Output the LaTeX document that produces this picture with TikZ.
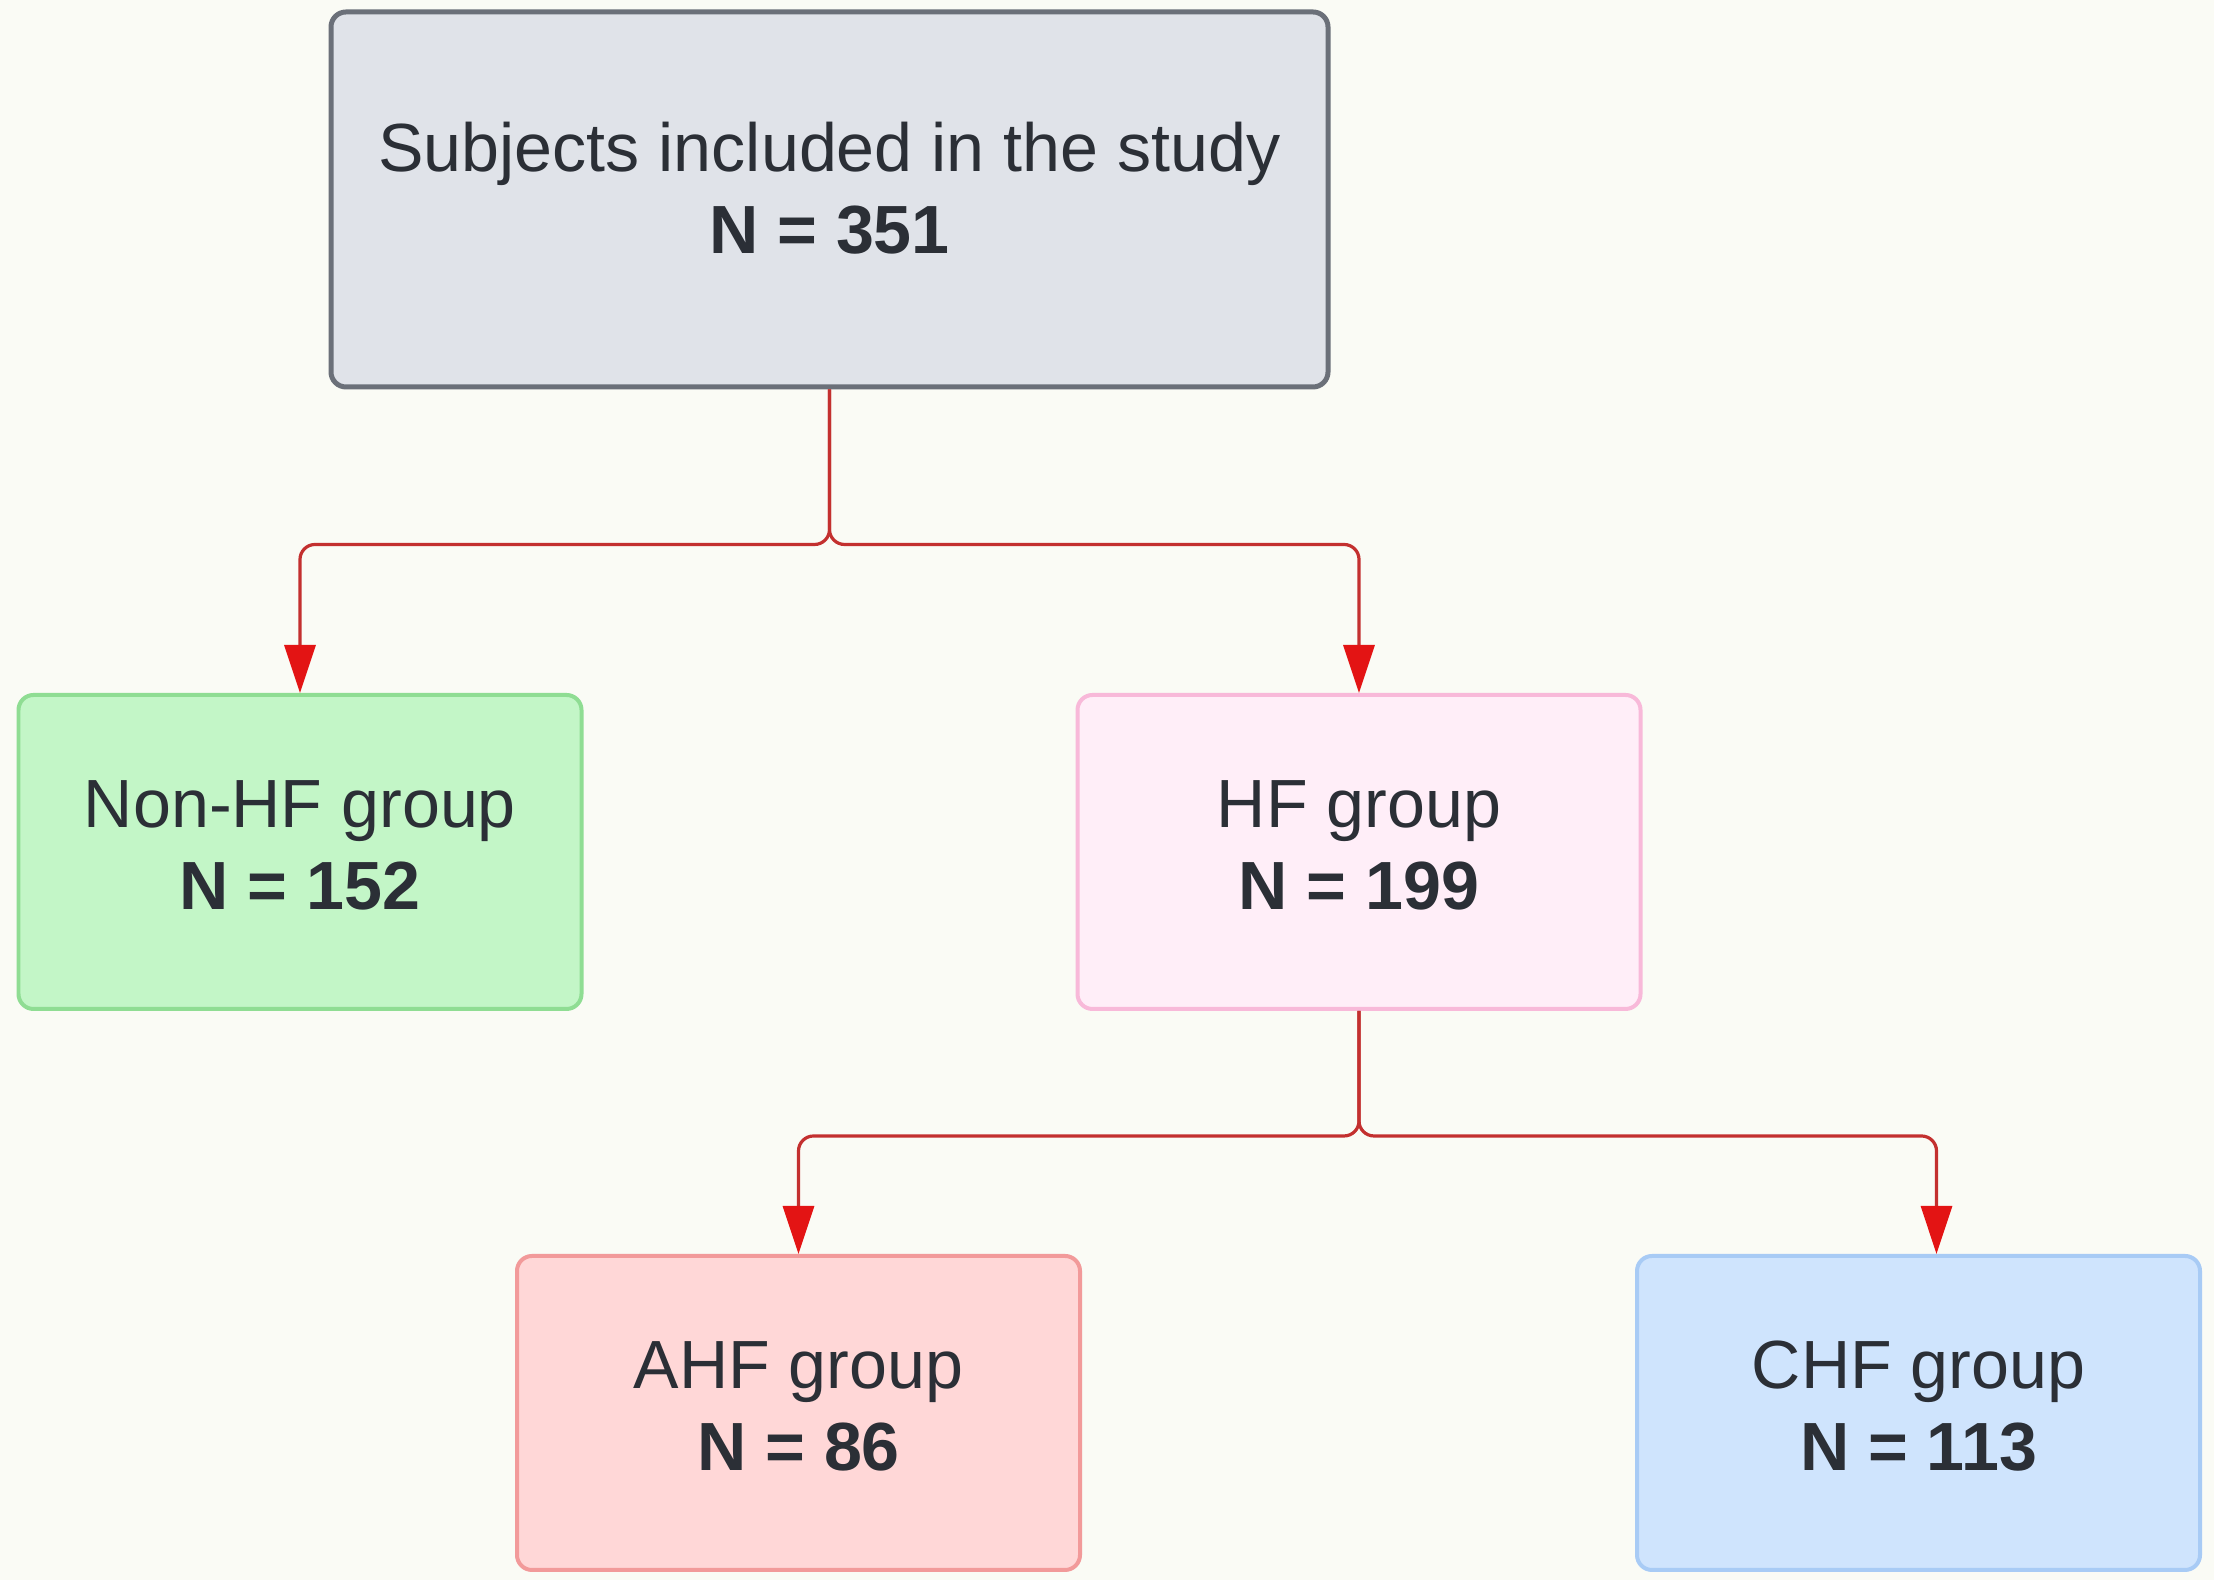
\documentclass[tikz,border=0pt]{standalone}
\usepackage{fontspec}
\setmainfont{Liberation Sans}
\usetikzlibrary{arrows.meta}
\definecolor{bg}{HTML}{FAFBF5}
\definecolor{ink}{HTML}{2B2F36}
\definecolor{subjfill}{HTML}{E0E3E9}
\definecolor{subjline}{HTML}{6B7079}
\definecolor{nonfill}{HTML}{C3F6C7}
\definecolor{nonline}{HTML}{8FDD93}
\definecolor{hffill}{HTML}{FFEEF8}
\definecolor{hfline}{HTML}{F8B9D9}
\definecolor{ahffill}{HTML}{FFD7D7}
\definecolor{ahfline}{HTML}{F29A9A}
\definecolor{chffill}{HTML}{CFE4FD}
\definecolor{chfline}{HTML}{A8CBF5}
\definecolor{linered}{HTML}{C3302F}
\definecolor{tipred}{HTML}{E31414}
\tikzset{
  grp/.style={rectangle,rounded corners=0.15cm,align=center,text=ink,
    font=\fontsize{19.4}{23.4}\selectfont,minimum width=5.63cm,
    minimum height=3.14cm,line width=0.04cm,inner sep=0pt,text depth=0.14cm},
  link/.style={draw=linered,line width=0.032cm,rounded corners=0.15cm,
    -{Triangle[length=0.48cm,width=0.31cm,color=tipred]}}
}
\begin{document}
\begin{tikzpicture}
\useasboundingbox(0,0)rectangle(22.14,15.80);
\fill[bg](0,0)rectangle(22.14,15.80); %background
%boxes
\node[grp,draw=subjline,fill=subjfill,line width=0.05cm,minimum width=9.97cm,
  minimum height=3.75cm,text depth=0.23cm](subj)at(8.295,13.805)
  {Subjects included in the study\\\textbf{N = 351}};
\node[grp,draw=nonline,fill=nonfill](nonhf)at(3.00,7.28){Non-HF group\\\textbf{N = 152}};
\node[grp,draw=hfline,fill=hffill](hf)at(13.59,7.28){HF group\\\textbf{N = 199}};
\node[grp,draw=ahfline,fill=ahffill](ahf)at(7.985,1.67){AHF group\\\textbf{N = 86}};
\node[grp,draw=chfline,fill=chffill](chf)at(19.185,1.67){CHF group\\\textbf{N = 113}};
%connectors
\draw[link](subj.south)--++(0,-1.55)-|(nonhf.north);
\draw[link](subj.south)--++(0,-1.55)-|(hf.north);
\draw[link](hf.south)--++(0,-1.25)-|(ahf.north);
\draw[link](hf.south)--++(0,-1.25)-|([xshift=0.18cm]chf.north);
\end{tikzpicture}
\end{document}
